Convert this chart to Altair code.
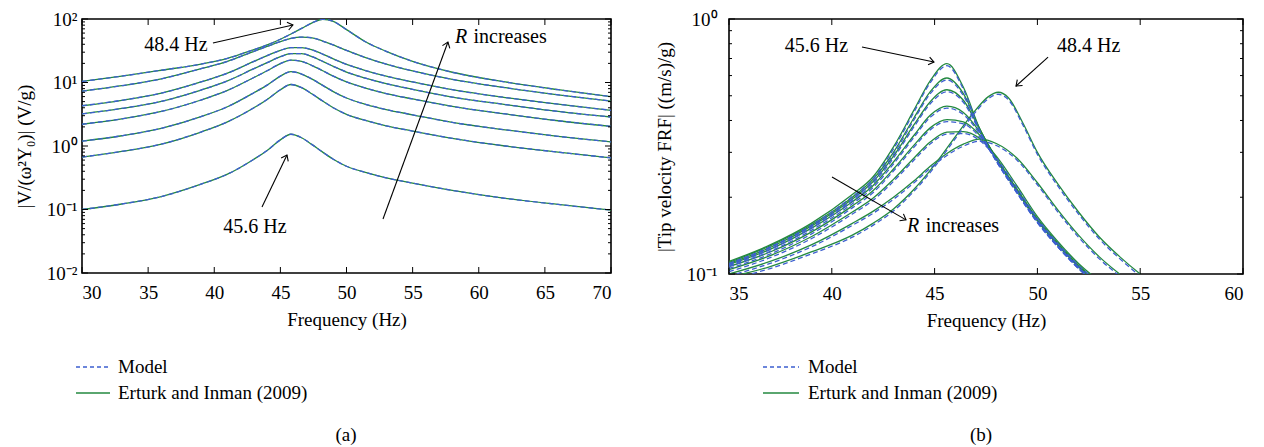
import altair as alt
import pandas as pd

FONT = "Liberation Serif"
GREEN = "#23893f"
BLUE = "#3d5fd0"
FS = 19
FS_ANN = 20

# ---------------- panel (a): voltage FRF ----------------
freq_a = [30, 33, 36, 39, 41, 43, 44, 45, 45.8, 46.6, 47.4, 48.2, 49, 50, 51.5, 53, 55, 58, 62, 66, 70]
a_r1 = [10.4, 12.6, 15.6, 19.5, 24, 33, 39, 48, 58, 71, 87, 99, 92, 68, 43, 31, 21.5, 14.5, 10.2, 7.7, 6.0]
a_r2 = [7.3, 8.9, 11.4, 16.5, 21.5, 31, 37, 44, 49.5, 52, 50.5, 45, 39, 32, 24.5, 19.5, 15.2, 11.2, 8.3, 6.4, 5.1]
a_r3 = [4.3, 5.25, 6.8, 10.2, 14.0, 21.5, 26.5, 32, 35.5, 35.5, 32.5, 28, 23.5, 19.3, 15.3, 12.6, 10.2, 7.7, 5.8, 4.55, 3.65]
a_r4 = [3.2, 3.9, 5.05, 7.6, 10.6, 16.5, 20.5, 25.5, 28.5, 28.5, 25.5, 21.5, 18, 14.6, 11.6, 9.6, 7.8, 5.9, 4.5, 3.5, 2.86]
a_r5 = [2.2, 2.68, 3.5, 5.3, 7.5, 12.0, 15.3, 19.8, 22.5, 21.5, 18.5, 15.3, 12.6, 10.2, 8.1, 6.7, 5.5, 4.2, 3.2, 2.5, 2.04]
a_r6 = [1.19, 1.45, 1.9, 2.9, 4.15, 6.9, 9.1, 12.6, 14.8, 13.6, 11.3, 9.0, 7.2, 5.7, 4.5, 3.75, 3.1, 2.35, 1.8, 1.42, 1.16]
a_r7 = [0.67, 0.82, 1.07, 1.66, 2.4, 4.0, 5.4, 7.7, 9.3, 8.3, 6.6, 5.1, 4.0, 3.15, 2.5, 2.08, 1.72, 1.32, 1.0, 0.8, 0.65]
a_r8 = [0.1, 0.122, 0.16, 0.25, 0.36, 0.62, 0.85, 1.25, 1.53, 1.35, 1.05, 0.8, 0.62, 0.48, 0.38, 0.315, 0.26, 0.2, 0.15, 0.12, 0.098]

# ---------------- panel (b): tip velocity FRF ----------------
freq_b = [35, 37, 39, 41, 42, 43, 44, 44.8, 45.6, 46.4, 47.2, 48, 49, 50, 51, 52, 53, 54]
b_r1 = [0.112, 0.13, 0.158, 0.205, 0.24, 0.315, 0.44, 0.575, 0.668, 0.54, 0.37, 0.285, 0.215, 0.165, 0.132, 0.108, 0.092, 0.08]
b_r2 = [0.111, 0.129, 0.156, 0.2, 0.235, 0.3, 0.41, 0.52, 0.587, 0.51, 0.37, 0.283, 0.213, 0.163, 0.13, 0.107, 0.091, 0.079]
b_r3 = [0.11, 0.127, 0.154, 0.197, 0.23, 0.29, 0.385, 0.475, 0.528, 0.48, 0.368, 0.282, 0.212, 0.162, 0.13, 0.107, 0.091, 0.079]
b_r4 = [0.109, 0.125, 0.151, 0.192, 0.222, 0.275, 0.35, 0.42, 0.455, 0.43, 0.36, 0.282, 0.212, 0.162, 0.13, 0.107, 0.091, 0.079]
b_r5 = [0.107, 0.122, 0.146, 0.185, 0.212, 0.258, 0.32, 0.375, 0.403, 0.395, 0.35, 0.285, 0.215, 0.163, 0.131, 0.108, 0.092, 0.08]
b_r6 = [0.104, 0.118, 0.14, 0.175, 0.198, 0.235, 0.285, 0.33, 0.36, 0.362, 0.34, 0.29, 0.222, 0.168, 0.134, 0.11, 0.094, 0.082]
b_r7 = [0.1, 0.112, 0.13, 0.158, 0.176, 0.2, 0.232, 0.265, 0.297, 0.323, 0.338, 0.325, 0.285, 0.228, 0.178, 0.142, 0.117, 0.1]
freq_b8 = [35, 37, 39, 41, 42, 43, 44, 45, 46, 47, 47.6, 48.1, 48.6, 49.3, 50, 51, 52, 53, 54, 55, 56]
b_r8 = [0.097, 0.107, 0.122, 0.142, 0.158, 0.18, 0.215, 0.268, 0.345, 0.44, 0.495, 0.516, 0.49, 0.39, 0.3, 0.225, 0.175, 0.14, 0.117, 0.1, 0.087]

# axis ticks
xticks_a = [30, 35, 40, 45, 50, 55, 60, 65, 70]
ymajor_a = [0.01, 0.1, 1, 10, 100]
xticks_b = [35, 40, 45, 50, 55, 60]
ymajor_b = [0.1, 1]
minor_mult = [2, 3, 4, 5, 6, 7, 8, 9]

# annotations (frequency, value)
arrows_a = [  # id, f, v
    ("a1", 39.9, 41.9), ("a1", 45.95, 80.5),
    ("a2", 43.61, 0.1095), ("a2", 45.5, 0.721),
    ("a3", 52.76, 0.0708), ("a3", 57.67, 43.4),
]
heads_a = [(45.95, 80.5, 77), (45.5, 0.721, 26), (57.67, 43.4, 20)]
texts_a = [  # text, f, v, align, style
    ("48.4 Hz", 39.5, 38.9, "right", "normal"),
    ("45.6 Hz", 43.08, 0.053, "center", "normal"),
    ("R", 58.2, 52.1, "left", "italic"),
    ("increases", 59.6, 52.1, "left", "normal"),
]
arrows_b = [
    ("b1", 41.47, 0.777), ("b1", 44.97, 0.678),
    ("b2", 50.52, 0.709), ("b2", 48.96, 0.546),
    ("b3", 40.01, 0.240), ("b3", 43.61, 0.163),
]
heads_b = [(44.97, 0.678, 102), (48.96, 0.546, 228), (43.61, 0.163, 120)]
texts_b = [
    ("45.6 Hz", 40.79, 0.784, "right", "normal"),
    ("48.4 Hz", 50.95, 0.784, "left", "normal"),
    ("R", 43.66, 0.154, "left", "italic"),
    ("increases", 44.57, 0.154, "left", "normal"),
]

V_PATH = "M -0.75 1 L 0 0 L 0.75 1"


def curves_df(freq_lists, value_lists):
    rows = []
    for i, (fs, vs) in enumerate(zip(freq_lists, value_lists)):
        for f, v in zip(fs, vs):
            rows.append({"c": i, "f": f, "v": v})
    return pd.DataFrame(rows)


def make_panel(df, xdom, xticks, ydom, ymajor, ytitle, lexpr, W, H, ylabpad, ytitlepad,
               dash_dy, arrows, heads, texts, leg, caption):
    X = alt.X("f:Q", scale=alt.Scale(domain=xdom, nice=False, zero=False),
              axis=alt.Axis(values=xticks, title="Frequency (Hz)", format="d",
                            labelPadding=10, titlePadding=8))
    Y = alt.Y("v:Q", scale=alt.Scale(type="log", domain=ydom, nice=False),
              axis=alt.Axis(values=ymajor, labelExpr=lexpr, title=ytitle,
                            labelPadding=ylabpad, titlePadding=ytitlepad))
    base = alt.Chart(df)
    green = base.mark_line(color=GREEN, strokeWidth=1.3, clip=True, interpolate="monotone").encode(
        x=X, y=Y, detail="c:N")
    blue = base.mark_line(color=BLUE, strokeWidth=1.3, strokeDash=[5, 3], clip=True,
                          interpolate="monotone", yOffset=dash_dy).encode(x=X, y=Y, detail="c:N")

    yminor = [m * (10 ** e) for e in range(-3, 3) for m in minor_mult]
    yminor = [t for t in yminor if ydom[0] < t < ydom[1]]
    xt = pd.DataFrame({"f": xticks})
    ytm = pd.DataFrame({"v": ymajor})
    ytn = pd.DataFrame({"v": yminor})
    tk = dict(color="black", strokeWidth=1)
    ticks = [
        alt.Chart(xt).mark_rule(**tk).encode(x=X, y=alt.value(H), y2=alt.value(H - 6)),
        alt.Chart(xt).mark_rule(**tk).encode(x=X, y=alt.value(0), y2=alt.value(6)),
        alt.Chart(ytm).mark_rule(**tk).encode(y=Y, x=alt.value(0), x2=alt.value(6)),
        alt.Chart(ytm).mark_rule(**tk).encode(y=Y, x=alt.value(W), x2=alt.value(W - 6)),
        alt.Chart(ytn).mark_rule(**tk).encode(y=Y, x=alt.value(0), x2=alt.value(3)),
        alt.Chart(ytn).mark_rule(**tk).encode(y=Y, x=alt.value(W), x2=alt.value(W - 3)),
    ]

    adf = pd.DataFrame([{"a": a, "f": f, "v": v, "o": i} for i, (a, f, v) in enumerate(arrows)])
    arrow_lines = alt.Chart(adf).mark_line(color="black", strokeWidth=1.1).encode(
        x=X, y=Y, detail="a:N", order="o:Q")
    hdf = pd.DataFrame([{"f": f, "v": v, "ang": g} for f, v, g in heads])
    arrow_heads = alt.Chart(hdf).mark_point(shape=V_PATH, filled=False, color="black", opacity=1,
                                            strokeWidth=1.1, size=110).encode(
        x=X, y=Y, angle=alt.Angle("ang:Q", scale=None))
    tlayers = []
    for t, f, v, al, st in texts:
        tdf = pd.DataFrame([{"f": f, "v": v, "t": t}])
        tlayers.append(alt.Chart(tdf).mark_text(align=al, baseline="middle", font=FONT, fontSize=FS_ANN,
                                                fontStyle=st, color="black").encode(x=X, y=Y, text="t:N"))

    dummy = pd.DataFrame({"d": [0]})
    lx0, lx1, ltx, ly1, ly2 = leg
    legend = [
        alt.Chart(dummy).mark_rule(color=BLUE, strokeDash=[4, 3], strokeWidth=1.3).encode(
            x=alt.value(lx0), x2=alt.value(lx1), y=alt.value(ly1)),
        alt.Chart(dummy).mark_rule(color=GREEN, strokeWidth=1.3).encode(
            x=alt.value(lx0), x2=alt.value(lx1), y=alt.value(ly2)),
        alt.Chart(dummy).mark_text(align="left", baseline="middle", font=FONT, fontSize=FS,
                                   color="black").encode(x=alt.value(ltx), y=alt.value(ly1),
                                                         text=alt.value("Model")),
        alt.Chart(dummy).mark_text(align="left", baseline="middle", font=FONT, fontSize=FS,
                                   color="black").encode(x=alt.value(ltx), y=alt.value(ly2),
                                                         text=alt.value("Erturk and Inman (2009)")),
        alt.Chart(dummy).mark_text(align="center", baseline="middle", font=FONT, fontSize=FS,
                                   color="black").encode(x=alt.value(caption[1]), y=alt.value(caption[2]),
                                                         text=alt.value(caption[0])),
    ]
    return alt.layer(green, blue, *ticks, arrow_lines, arrow_heads, *tlayers, *legend).properties(
        width=W, height=H)


df_a = curves_df([freq_a] * 8, [a_r1, a_r2, a_r3, a_r4, a_r5, a_r6, a_r7, a_r8])
df_b = curves_df([freq_b] * 7 + [freq_b8], [b_r1, b_r2, b_r3, b_r4, b_r5, b_r6, b_r7, b_r8])

lex_a = ("datum.value > 50 ? '10²' : datum.value > 5 ? '10¹' : datum.value > 0.5 ? '10⁰' : "
         "datum.value > 0.05 ? '10⁻¹' : '10⁻²'")
lex_b = "datum.value > 0.5 ? '10⁰' : '10⁻¹'"

panel_a = make_panel(df_a, [30, 70], xticks_a, [0.01, 100], ymajor_a, "|V/(ω²Y₀)| (V/g)", lex_a,
                     529, 254, 5, 12, 0, arrows_a, heads_a, texts_a,
                     (-6, 28, 36, 348, 374), ("(a)", 264, 416))
panel_b = make_panel(df_b, [35, 60], xticks_b, [0.1, 1], ymajor_b, "|Tip velocity FRF| ((m/s)/g)", lex_b,
                     514, 255, 12, 12, 2, arrows_b, heads_b, texts_b,
                     (34, 70, 79, 348, 374), ("(b)", 252, 416))

chart = alt.hconcat(panel_a, panel_b, spacing=118, bounds="flush").properties(
    padding={"left": 6, "top": 1, "right": 5, "bottom": 5}
).configure(background="white").configure_view(
    stroke="black", strokeWidth=1.6
).configure_axis(
    labelFont=FONT, labelFontSize=FS, labelColor="black",
    titleFont=FONT, titleFontSize=FS, titleFontWeight="normal", titleColor="black",
    domain=False, ticks=False, grid=False
)

chart.save("out.html", embed_options={"renderer": "svg", "actions": False})
